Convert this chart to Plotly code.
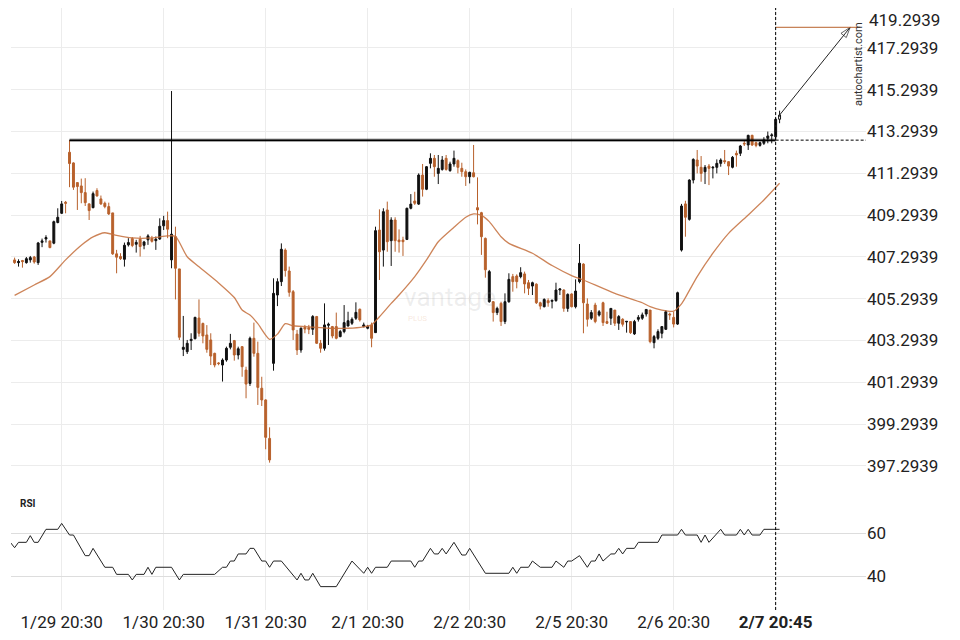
import plotly.graph_objects as go

# ---------------- data ----------------
TICK_IDX = [12, 38, 64, 90, 116, 142, 168, 194]
TICK_TEXT = ["1/29 20:30", "1/30 20:30", "1/31 20:30", "2/1 20:30", "2/2 20:30",
             "2/5 20:30", "2/6 20:30", "<b>2/7 20:45</b>"]
PRICE_TICKS = [397.2939, 399.2939, 401.2939, 403.2939, 405.2939, 407.2939,
               409.2939, 411.2939, 413.2939, 415.2939, 417.2939, 419.2939]
RSI_TICKS = [40, 60]

OPEN = [407.15, 407.02, 407.12, 407.02, 407.15, 407.29, 407.02, 407.99, 408.15, 408.06,
        407.95, 408.94, 409.38, 409.91, 412.30, 411.79, 410.85, 410.69, 410.37, 409.83,
        409.65, 410.47, 410.07, 409.86, 409.70, 409.40, 407.44, 407.31, 407.18, 407.87,
        408.17, 407.90, 408.14, 407.85, 408.11, 408.17, 408.07, 408.15, 408.78, 409.03,
        407.15, 408.26, 406.72, 402.87, 402.76, 403.29, 403.38, 404.37, 404.11, 403.56,
        403.32, 402.68, 402.22, 402.12, 402.36, 402.97, 403.29, 402.60, 403.00, 401.88,
        401.24, 403.40, 402.68, 401.01, 400.45, 398.61, 402.20, 405.47, 406.11, 407.62,
        406.62, 405.63, 403.60, 402.84, 403.92, 403.91, 403.83, 404.44, 403.16, 402.92,
        404.02, 403.96, 403.96, 403.48, 403.72, 403.99, 404.12, 404.36, 404.79, 403.96,
        403.88, 404.04, 403.67, 408.58, 407.62, 409.54, 408.07, 409.06, 408.10, 408.10,
        408.13, 409.62, 409.97, 409.82, 411.21, 410.53, 411.77, 412.01, 411.29, 411.48,
        412.01, 411.42, 411.74, 411.90, 411.53, 411.37, 411.13, 411.32, 409.65, 409.41,
        408.18, 405.15, 405.15, 404.63, 405.07, 404.20, 405.15, 406.35, 406.38, 406.35,
        406.48, 406.06, 405.90, 405.99, 405.10, 404.91, 405.20, 405.17, 405.20, 405.71,
        405.71, 404.83, 405.52, 404.91, 406.11, 406.95, 405.04, 404.36, 404.99, 404.51,
        405.10, 404.20, 404.36, 404.75, 404.12, 404.31, 404.18, 404.20, 403.61, 404.31,
        404.36, 404.56, 404.75, 403.19, 403.40, 403.64, 403.83, 404.56, 404.40, 404.08,
        407.62, 409.83, 409.09, 410.97, 411.93, 411.58, 411.37, 411.64, 411.55, 411.58,
        411.77, 411.90, 411.85, 411.58, 412.25, 412.25, 412.73, 412.65, 413.11, 412.76,
        412.63, 412.73, 412.97, 413.09, 413.04, 413.88]
HIGH = [407.26, 407.18, 407.15, 407.29, 407.34, 407.34, 408.01, 408.17, 408.33, 408.06,
        409.03, 409.62, 409.97, 409.97, 412.89, 411.82, 410.85, 411.04, 411.06, 409.86,
        410.42, 410.58, 410.23, 409.94, 409.89, 409.40, 407.63, 407.47, 407.98, 408.19,
        408.24, 408.11, 408.30, 408.06, 408.38, 408.30, 408.27, 409.14, 409.26, 409.46,
        415.23, 408.74, 406.72, 404.47, 403.32, 403.64, 404.43, 405.26, 404.15, 404.03,
        403.64, 402.71, 402.26, 402.44, 403.00, 403.61, 403.32, 403.00, 403.03, 402.04,
        403.48, 404.15, 403.24, 401.56, 400.48, 399.14, 406.27, 406.27, 407.94, 407.70,
        406.83, 405.71, 403.80, 403.92, 404.04, 404.04, 404.51, 404.47, 403.32, 405.07,
        404.15, 403.99, 404.63, 403.80, 404.99, 404.67, 404.40, 405.12, 404.82, 404.15,
        404.04, 404.15, 408.74, 409.57, 409.62, 409.94, 409.19, 409.19, 408.61, 408.26,
        409.65, 410.30, 410.41, 411.29, 411.74, 411.64, 412.25, 412.17, 412.17, 412.12,
        412.17, 411.85, 412.38, 411.96, 411.80, 411.48, 411.37, 412.65, 411.10, 409.45,
        408.22, 406.67, 405.18, 404.91, 405.15, 405.55, 406.51, 406.48, 406.46, 406.80,
        406.59, 406.19, 406.11, 406.03, 405.15, 405.31, 405.31, 405.23, 406.06, 405.79,
        405.74, 405.55, 405.55, 406.22, 407.91, 406.99, 405.31, 404.75, 405.10, 404.75,
        405.15, 404.67, 404.83, 404.75, 404.51, 404.36, 404.21, 404.20, 404.28, 404.51,
        404.63, 404.78, 404.75, 403.56, 403.83, 403.96, 404.75, 404.63, 404.67, 405.63,
        409.83, 409.98, 411.01, 412.01, 412.41, 412.12, 411.69, 411.74, 411.64, 411.96,
        412.01, 412.41, 411.88, 412.12, 412.38, 412.65, 412.86, 413.14, 413.14, 412.81,
        412.81, 413.02, 413.29, 413.21, 413.93, 414.29]
LOW = [406.96, 406.83, 406.78, 406.97, 407.02, 406.97, 406.91, 407.76, 407.98, 407.71,
       407.90, 408.90, 409.35, 409.38, 410.63, 410.50, 409.54, 409.86, 409.73, 409.06,
       409.62, 410.18, 409.78, 409.62, 409.30, 407.39, 406.51, 407.15, 406.83, 407.79,
       407.76, 407.50, 407.31, 407.66, 407.87, 407.98, 407.63, 408.11, 408.58, 408.19,
       406.75, 405.26, 403.32, 402.55, 402.65, 402.84, 403.35, 403.48, 403.16, 402.71,
       402.12, 402.01, 402.11, 401.33, 402.28, 402.87, 402.33, 402.39, 401.56, 400.53,
       401.12, 402.52, 400.21, 400.16, 398.09, 397.45, 401.85, 404.94, 405.90, 406.35,
       405.39, 403.32, 402.60, 402.71, 403.64, 403.60, 403.56, 403.13, 402.71, 402.81,
       403.08, 403.40, 403.35, 403.45, 403.64, 403.96, 404.04, 404.28, 404.20, 403.92,
       403.83, 402.97, 403.67, 406.19, 406.83, 407.54, 406.86, 407.54, 407.50, 407.34,
       408.10, 409.57, 409.78, 409.78, 410.18, 410.49, 411.53, 411.13, 410.78, 411.42,
       411.42, 411.37, 411.61, 411.29, 411.13, 410.69, 410.81, 411.10, 408.85, 407.39,
       406.30, 405.10, 404.20, 404.51, 403.99, 404.08, 405.10, 405.63, 405.79, 406.27,
       405.55, 405.47, 405.47, 405.04, 404.78, 404.88, 404.91, 404.83, 405.15, 405.47,
       404.67, 404.67, 404.88, 404.83, 406.03, 403.64, 403.96, 404.28, 404.12, 404.44,
       403.99, 404.08, 404.04, 403.99, 403.80, 403.96, 403.67, 403.61, 403.56, 404.20,
       404.28, 404.44, 403.16, 402.92, 403.32, 403.40, 403.80, 404.28, 403.92, 404.04,
       407.55, 408.26, 409.03, 410.81, 411.29, 410.89, 410.78, 410.73, 411.05, 411.29,
       411.61, 411.74, 411.21, 411.53, 411.61, 412.12, 412.60, 412.41, 412.60, 412.54,
       412.57, 412.65, 412.73, 412.73, 412.89, 413.69]
CLOSE = [407.02, 407.07, 407.07, 407.21, 407.26, 407.05, 407.96, 408.06, 408.22, 407.74,
         408.98, 409.19, 409.83, 409.86, 411.76, 410.63, 410.66, 410.37, 409.89, 409.51,
         410.32, 410.21, 409.83, 409.70, 409.35, 407.44, 407.28, 407.21, 407.85, 407.98,
         407.84, 407.99, 407.79, 408.01, 408.30, 408.04, 408.14, 408.76, 409.03, 408.62,
         408.38, 406.75, 403.45, 402.97, 403.16, 403.35, 404.40, 403.64, 403.51, 402.87,
         402.55, 402.12, 402.19, 402.36, 402.92, 403.16, 402.60, 402.90, 402.04, 401.21,
         403.40, 402.68, 401.05, 400.45, 398.66, 397.58, 405.55, 406.11, 407.66, 406.64,
         405.60, 403.80, 402.84, 403.88, 403.84, 403.83, 404.44, 403.16, 402.92, 404.04,
         404.07, 403.51, 403.40, 403.72, 404.15, 404.24, 404.31, 404.64, 404.28, 404.04,
         403.96, 403.40, 408.55, 407.54, 409.46, 408.02, 409.06, 408.07, 408.02, 408.02,
         409.62, 409.82, 409.86, 411.21, 410.53, 411.61, 412.01, 411.61, 411.53, 411.93,
         411.48, 411.74, 412.01, 411.58, 411.37, 411.13, 411.34, 411.13, 409.54, 408.26,
         406.68, 406.59, 404.63, 404.83, 404.20, 405.15, 406.22, 406.11, 406.11, 406.54,
         406.00, 405.79, 406.06, 405.10, 404.94, 405.26, 405.10, 405.22, 405.71, 405.76,
         404.83, 405.50, 404.91, 405.66, 406.99, 405.10, 404.31, 404.63, 404.20, 404.67,
         404.15, 404.12, 404.83, 404.12, 404.44, 404.07, 404.21, 403.67, 404.20, 404.40,
         404.52, 404.78, 403.24, 403.48, 403.72, 403.96, 404.67, 404.52, 404.08, 405.58,
         409.73, 409.19, 410.97, 411.96, 411.64, 411.29, 411.58, 411.53, 411.58, 411.77,
         411.93, 411.85, 411.64, 412.06, 412.17, 412.60, 412.70, 413.11, 412.65, 412.63,
         412.76, 412.89, 413.08, 413.13, 413.88, 414.08]

MA_IDX = [0, 5, 9, 13, 17, 20, 23, 26, 30, 35, 39, 41, 44, 47, 52, 56, 58, 60, 62, 65,
          67, 69, 71, 76, 80, 85, 89, 91, 93, 96, 98, 102, 105, 108, 112, 115, 117, 119,
          121, 124, 126, 132, 137, 142, 145, 153, 160, 162, 165, 168, 170, 171, 174, 178,
          182, 187, 191, 195]
MA_VAL = [405.45, 405.95, 406.35, 407.15, 407.85, 408.25, 408.45, 408.32, 408.20, 408.20,
          408.30, 408.28, 407.30, 406.82, 406.05, 405.35, 404.75, 404.51, 404.10, 403.35,
          403.60, 404.10, 404.00, 403.93, 403.88, 403.88, 403.95, 404.04, 404.43, 405.07,
          405.47, 406.35, 407.15, 408.02, 408.71, 409.19, 409.35, 409.28, 408.98, 408.26,
          407.94, 407.47, 406.88, 406.40, 406.19, 405.55, 405.10, 404.91, 404.75, 404.70,
          405.05, 405.35, 406.35, 407.47, 408.42, 409.30, 410.02, 410.82]

RSI_IDX = [-1, 0, 1, 3, 4, 5, 6, 8, 11, 12, 14, 15, 18, 19, 20, 23, 25, 26, 29, 30,
           31, 33, 34, 35, 36, 40, 42, 43, 51, 53, 54, 55, 56, 57, 59, 60, 61, 63, 64, 65,
           66, 68, 72, 73, 74, 75, 76, 78, 82, 86, 89, 90, 91, 92, 95, 96, 101, 102, 103, 104,
           106, 107, 108, 109, 110, 112, 114, 115, 116, 120, 126, 127, 128, 129, 131, 132, 134, 137, 138, 140,
           141, 142, 144, 146, 147, 148, 149, 150, 152, 153, 154, 155, 156, 158, 159, 164, 165, 169, 170, 171,
           174, 175, 176, 177, 180, 181, 184, 185, 186, 187, 188, 190, 191, 195]
RSI_VAL = [55.6, 53.3, 55.8, 55.8, 58.9, 55.8, 55.8, 61.85, 61.85, 64.6, 59.2, 59.2, 49.6, 49.6, 53.0, 44.2, 44.2, 40.9, 40.9, 38.3,
           40.9, 40.9, 44.2, 40.9, 44.2, 44.2, 38.3, 40.9, 40.9, 44.2, 44.2, 47.1, 47.1, 50.4, 50.4, 53.0, 53.0, 47.1, 47.1, 44.2,
           47.1, 47.1, 38.3, 41.4, 38.3, 38.3, 41.4, 35.2, 35.2, 47.1, 41.4, 44.2, 41.4, 44.2, 44.2, 47.1, 47.1, 44.2, 47.1, 47.1,
           53.0, 50.4, 50.4, 53.0, 50.4, 55.8, 49.9, 49.9, 53.0, 41.4, 41.4, 44.2, 41.4, 44.2, 44.2, 47.1, 44.2, 44.2, 47.1, 44.2,
           47.1, 47.1, 49.6, 44.2, 47.1, 47.1, 50.4, 47.1, 50.4, 50.4, 53.0, 50.4, 53.0, 53.0, 55.8, 55.8, 59.2, 59.2, 61.85, 59.2,
           59.2, 55.8, 59.2, 55.8, 61.85, 59.2, 59.2, 61.85, 59.2, 61.85, 59.2, 59.2, 61.85, 61.85]

RESISTANCE = 412.88
RES_START_IDX = 14
NOW_IDX = 194
TARGET = 418.28
TARGET_IDX = 213

UP = "#111111"
DOWN = "#b8612c"
GRID = "#ececec"
TXT = "#222222"

n = len(OPEN)
X = list(range(n))

fig = go.Figure()

fig.add_trace(go.Candlestick(
    x=X[:-1], open=OPEN[:-1], high=HIGH[:-1], low=LOW[:-1], close=CLOSE[:-1],
    increasing=dict(line=dict(color=UP, width=1), fillcolor=UP),
    decreasing=dict(line=dict(color=DOWN, width=1), fillcolor=DOWN),
    whiskerwidth=0, hoverinfo="skip", showlegend=False, xaxis="x", yaxis="y"))
fig.add_trace(go.Candlestick(
    x=X[-1:], open=OPEN[-1:], high=HIGH[-1:], low=LOW[-1:], close=CLOSE[-1:],
    increasing=dict(line=dict(color=UP, width=1), fillcolor="white"),
    decreasing=dict(line=dict(color=UP, width=1), fillcolor="white"),
    whiskerwidth=0, hoverinfo="skip", showlegend=False, xaxis="x", yaxis="y"))

fig.add_trace(go.Scatter(x=MA_IDX, y=MA_VAL, mode="lines",
                         line=dict(color="rgba(196,110,60,0.85)", width=1.3, shape="spline", smoothing=0.6),
                         hoverinfo="skip", showlegend=False, xaxis="x", yaxis="y"))

fig.add_trace(go.Scatter(x=[X[-1], TARGET_IDX], y=[CLOSE[-1], TARGET], mode="lines+markers",
                         line=dict(color="#222", width=1),
                         marker=dict(symbol="arrow-open", size=[0, 11], angleref="previous",
                                     color="#222", line=dict(color="#222", width=1)),
                         hoverinfo="skip", showlegend=False, xaxis="x", yaxis="y"))

fig.add_trace(go.Scatter(x=RSI_IDX, y=RSI_VAL, mode="lines",
                         line=dict(color="#222", width=1),
                         hoverinfo="skip", showlegend=False, xaxis="x", yaxis="y2"))

XMIN, XMAX = -0.918, 217.03
PRICE_RANGE = [395.902, 419.203]
SPLIT = 0.19103

shapes = [
    dict(type="line", xref="x", yref="y", x0=RES_START_IDX, x1=NOW_IDX, y0=RESISTANCE, y1=RESISTANCE,
         line=dict(color="rgba(0,0,0,0.35)", width=3.5)),
    dict(type="line", xref="x", yref="y", x0=RES_START_IDX, x1=NOW_IDX, y0=RESISTANCE, y1=RESISTANCE,
         line=dict(color="#000", width=1.5)),
    dict(type="line", xref="x", yref="y", x0=NOW_IDX, x1=XMAX, y0=RESISTANCE, y1=RESISTANCE,
         line=dict(color="#000", width=1, dash="3px,2px")),
    dict(type="line", xref="x", yref="y", x0=NOW_IDX, x1=215.5, y0=TARGET, y1=TARGET,
         line=dict(color=DOWN, width=1)),
    dict(type="line", xref="x", yref="paper", x0=NOW_IDX, x1=NOW_IDX, y0=0, y1=1,
         line=dict(color="#000", width=1, dash="3px,2px")),
]

# ticks that fall at the very top edge of the price panel are written as labels
top_labels = [v for v in PRICE_TICKS if v > PRICE_RANGE[1]]
inner_ticks = [v for v in PRICE_TICKS if v <= PRICE_RANGE[1]]

annotations = [
    dict(text="<b>RSI</b>", xref="paper", yref="paper", x=0.0082, y=0.1769, xanchor="left", yanchor="middle",
         showarrow=False, font=dict(size=10, color=TXT, family="Roboto")),
    dict(text="autochartist.com", textangle=-90, xref="paper", yref="y", x=1, y=416.5,
         xanchor="right", yanchor="middle", showarrow=False, xshift=1,
         font=dict(size=11, color="#333", family="Roboto")),
    dict(text="vantage", xref="paper", yref="paper", x=0.513, y=0.520, showarrow=False,
         font=dict(size=26, color="rgba(150,150,150,0.16)", family="Roboto")),
    dict(text="PLUS", xref="paper", yref="paper", x=0.4754, y=0.484, showarrow=False,
         font=dict(size=8, color="rgba(220,140,90,0.22)", family="Roboto")),
]
for v in top_labels:
    annotations.append(dict(text=f"{v:.4f}", xref="paper", yref="paper", x=1, y=1,
                            xanchor="left", yanchor="top", xshift=1, yshift=0, showarrow=False,
                            font=dict(size=17, color=TXT, family="Roboto")))

fig.update_layout(
    width=960, height=640,
    margin=dict(l=3, r=102, t=0, b=38, autoexpand=False),
    paper_bgcolor="white", plot_bgcolor="white",
    font=dict(family="Roboto", size=17, color=TXT),
    showlegend=False,
    shapes=shapes, annotations=annotations,
    xaxis=dict(domain=[0, 1], anchor="y2", range=[XMIN, XMAX], rangeslider=dict(visible=False),
               tickmode="array", tickvals=TICK_IDX, ticktext=TICK_TEXT, automargin=False,
               showgrid=True, gridcolor=GRID, gridwidth=1, zeroline=False, showline=False,
               ticks="", tickfont=dict(size=17, color=TXT)),
    yaxis=dict(domain=[SPLIT, 1], anchor="x", side="right", range=PRICE_RANGE,
               tickmode="array", tickvals=inner_ticks, ticktext=[f"{v:.4f}" for v in inner_ticks],
               automargin=False,
               showgrid=True, gridcolor=GRID, gridwidth=1, zeroline=False, showline=False,
               ticks="", tickfont=dict(size=17, color=TXT)),
    yaxis2=dict(domain=[0, SPLIT], anchor="x", side="right", range=[24.33, 77.81],
                tickmode="array", tickvals=RSI_TICKS, automargin=False,
                showgrid=True, gridcolor="#dddddd", gridwidth=1, zeroline=False, showline=False,
                ticks="", tickfont=dict(size=17, color=TXT)),
)

fig.write_html("out.html")
